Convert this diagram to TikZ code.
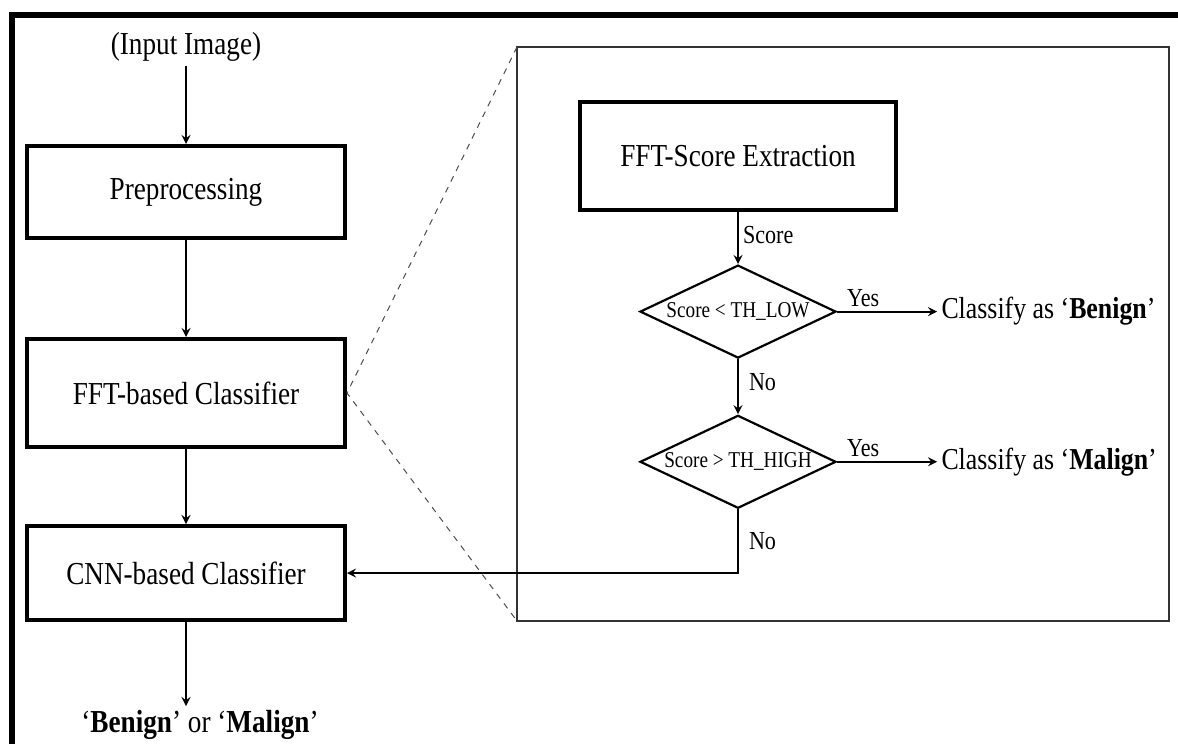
\documentclass[tikz,border=0pt]{standalone}
\usepackage{fontspec}
\setmainfont[FakeStretch=0.85]{Liberation Serif}
\usepackage{tikz}
\usetikzlibrary{positioning}
\usetikzlibrary{shapes.geometric}

\begin{document}
\begin{tikzpicture}[
        x=0.5pt, y=-0.5pt,
        block/.style={rectangle, draw, line width=2pt, minimum width=159pt, align=center, font=\fontsize{16}{18}\selectfont},
        decision/.style={diamond, draw, line width=1.1pt, aspect=2.1, inner sep=0pt, minimum width=98pt, minimum height=46.5pt, font=\fontsize{11.3}{12}\selectfont},
        io/.style={inner sep=2pt, font=\fontsize{16}{18}\selectfont},
        outcome/.style={inner sep=2pt, font=\fontsize{15.2}{17}\selectfont},
        flag/.style={inner sep=2pt, font=\fontsize{13}{14}\selectfont},
        arrow/.style={line width=1pt,->,>=stealth},
        frame/.style={line width=3pt},
        zoomframe/.style={line width=0.7pt, draw=black!80},
        zoomline/.style={dashed, line width=0.5pt, draw=black!70}
    ]
        \useasboundingbox (0,0) rectangle (1178,744);
        \clip (0,0) rectangle (1178,744);

        % Rahmen
        \draw[frame] (12,760) |- (1190,15);
        \coordinate (zoomnw) at (517,47);
        \coordinate (zoomsw) at (517,621);
        \coordinate (zoomse) at (1169,621);
        \draw[zoomframe] (zoomnw) rectangle (zoomse);

        % Pipeline
        \node[io] (input) at (186,47) {(Input Image)};
        \node[block, minimum height=46pt] (pre) at (186,192) {Preprocessing};
        \node[block, minimum height=54pt] (fftcls) [below=48.5pt of pre] {FFT-based Classifier};
        \node[block, minimum height=47pt] (cnn) [below=37.5pt of fftcls] {CNN-based Classifier};
        \node[io] (result) [below=42pt of cnn, xshift=7pt] {‘\textbf{Benign}’ or ‘\textbf{Malign}’};

        % FFT-Klassifikator im Detail
        \node[block, minimum width=158pt, minimum height=54pt] (fftscore) at (738,156) {FFT-Score Extraction};
        \node[decision] (low) [below=26pt of fftscore] {Score < TH\_LOW};
        \node[decision] (high) [below=27.5pt of low] {Score > TH\_HIGH};
        \node[outcome] (benign) [right=50pt of low] {Classify as ‘\textbf{Benign}’};
        \node[outcome] (malign) [right=50pt of high] {Classify as ‘\textbf{Malign}’};

        % Verbindungen
        \draw[arrow] (input) -- (pre);
        \draw[arrow] (pre) -- (fftcls);
        \draw[arrow] (fftcls) -- (cnn);
        \draw[arrow] (cnn) -- (cnn |- result.north);

        \draw[zoomline] (zoomnw) -- (fftcls.east) -- (zoomsw);

        \draw[arrow] (fftscore) -- node[flag, right, pos=0.45] {Score} (low);
        \draw[arrow] (low) -- node[flag, right=3pt, pos=0.42] {No} (high);
        \draw[arrow] (low) -- node[flag, above, pos=0.26] {Yes} (benign);
        \draw[arrow] (high) -- node[flag, above, pos=0.26] {Yes} (malign);
        \draw[arrow] (high.south) |- node[flag, right=3pt, pos=0.25] {No} (cnn.east);
    \end{tikzpicture}
\end{document}
